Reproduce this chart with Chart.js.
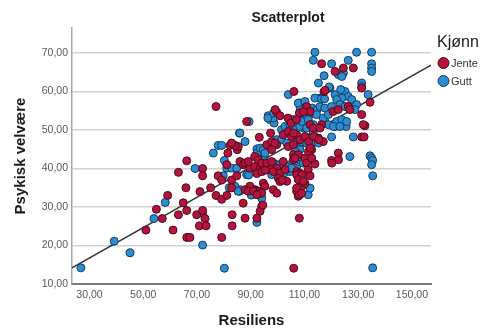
<!DOCTYPE html>
<html lang="no">
<head>
<meta charset="UTF-8">
<title>Scatterplot</title>
<script src="https://cdn.jsdelivr.net/npm/chart.js"></script>
<style>
  html, body { margin: 0; padding: 0; background: #fff; }
</style>
</head>
<body>
<canvas id="chart" width="484" height="334"></canvas>
<script>
// axis setup
const xTicks = [30, 50, 70, 90, 110, 130, 150];
const yTicks = [10, 20, 30, 40, 50, 60, 70];
const xRange = [23.5, 157.1];
const yRange = [10, 76.5];

// fit line (Resiliens -> Psykisk velvære)
const fitIntercept = 4.94;
const fitSlope = 0.394;

const groups = ['Jente', 'Gutt'];

// [Resiliens, Psykisk velvære]
const jente = [
  [51.0,24.0],[54.9,29.4],[57.1,27.0],[61.1,24.0],[63.1,39.0],[59.1,33.0],[63.1,28.0],[64.9,31.1],[65.9,35.0],[66.2,29.1],[66.2,22.1],[67.4,22.1],[66.2,42.0],
  [72.1,40.0],[72.1,38.1],[71.1,34.0],[69.9,28.0],[72.1,29.1],[73.0,27.0],[70.9,25.1],[73.4,25.1],[75.1,35.0],[77.1,33.0],[79.2,32.0],[77.9,38.1],[79.2,37.0],[81.1,33.0],[79.2,22.1],[82.9,37.0],[83.1,28.0],[83.1,25.1],[77.1,56.1],[82.3,46.0],[81.5,44.0],[85.0,44.9],[81.1,41.0],[85.4,45.7],[84.2,46.0],[84.8,38.1],[82.9,35.0],[82.9,46.6],[86.0,41.8],[87.2,41.0],
  [87.9,41.4],[89.7,40.1],[91.6,40.5],[89.1,41.8],[93.5,40.1],[94.7,40.5],[96.0,39.7],[97.8,40.1],[92.3,38.7],[94.2,39.2],[95.4,39.6],[91.6,43.1],[92.8,42.3],[94.1,41.4],[96.0,41.4],[97.8,41.8],[99.7,40.1],[98.4,39.2],[94.7,36.2],[95.3,35.4],[93.5,34.1],[91.6,34.5],[89.7,35.4],[87.9,34.5],[92.8,34.1],[94.1,33.6],[98.4,34.5],[99.7,33.6],[89.1,34.1],[91.0,34.1],[92.3,33.2],[87.2,31.0],[94.1,30.2],[93.5,28.9],[94.5,30.5],[87.9,27.1],[92.3,27.1],[93.2,48.1],[97.4,49.2],[99.7,54.6],[100.9,53.7],[99.1,55.3],[88.5,52.2],[96.0,46.2],[97.8,47.0],[99.7,46.2],[99.0,46.6],[97.8,44.9],
  [102.1,48.8],[104.0,49.6],[105.2,48.3],[107.1,48.8],[108.3,47.5],[110.2,48.3],[104.0,45.7],[105.9,46.2],[105.9,43.6],[107.7,43.6],[110.2,42.7],[102.1,41.8],[100.9,38.8],[100.3,37.5],[100.9,36.6],[107.1,39.2],[108.3,38.8],[107.1,34.1],[109.0,35.4],[107.7,32.8],[103.4,36.7],[110.2,36.1],[108.1,33.2],[108.1,27.1],[106.0,14.1],[101.7,37.0],[102.8,39.7],[105.9,42.3],[106.5,42.7],[110.8,41.4],[111.4,39.7],[112.1,38.1],[107.1,38.4],[109.0,38.4],[107.7,37.1],[109.6,36.7],[107.1,34.9],[109.0,33.6],[106.1,60.0],[103.9,53.1],[105.1,51.8],[108.1,54.4],[107.1,52.7],[105.9,49.2],[110.8,56.1],[112.1,54.8],[109.6,54.8],[111.6,47.0],[112.7,44.9],[111.5,44.4],
  [112.1,51.4],[116.4,51.4],[113.3,50.5],[132.5,51.1],[131.3,48.2],[132.2,48.2],[115.2,47.9],[117.0,47.0],[122.6,44.0],[120.1,42.1],[113.9,41.2],[116.4,67.2],[121.4,65.2],[124.5,66.1],[128.2,66.1],[131.3,60.9],[117.3,60.0],[134.4,57.2],[120.7,54.8],[122.6,55.3],[126.3,56.1],[126.9,55.3],[115.8,50.5],[131.3,54.0],[131.9,51.4],[113.4,48.3],[115.3,47.5],[112.1,45.3],[112.7,42.7],[122.7,42.3],[120.2,41.4],[117.7,60.3]
];

const gutt = [
  [26.8,14.2],[39.2,21.1],[45.1,18.1],[54.0,27.0],[58.2,31.2],[69.3,40.0],
  [72.1,28.3],[72.1,20.1],[79.8,38.1],[80.2,14.1],[82.0,35.0],[83.1,35.0],[77.9,46.0],[79.2,46.0],[76.1,44.0],[85.8,49.2],[80.2,42.1],[81.1,40.1],[82.9,40.1],[84.8,40.1],[87.9,47.0],[85.8,34.1],[86.0,34.5],[88.5,34.5],[88.5,38.4],[91.0,39.2],[97.8,38.4],[89.2,38.3],
  [92.3,45.1],[94.1,45.1],[96.0,45.1],[91.6,43.1],[92.8,42.7],[94.7,42.3],[96.0,41.0],[98.4,41.4],[99.7,41.0],[104.6,41.0],[107.1,40.5],[109.0,42.3],[107.7,41.8],[102.8,39.7],[104.6,39.2],[108.3,37.1],[84.1,35.4],[85.3,34.1],[90.4,33.2],[94.1,32.3],[92.3,26.0],[108.3,36.7],[111.4,33.2],[90.2,33.1],[102.3,38.7],[104.1,40.0],[92.3,44.0],[93.5,45.3],[94.7,44.9],[95.3,44.0],[100.9,41.0],[103.4,40.5],[105.2,40.1],[108.3,42.3],[108.3,35.4],[110.2,35.8],[112.1,34.9],[108.3,33.2],
  [89.4,52.2],[86.0,49.2],[96.5,53.7],[97.2,52.7],[98.7,51.8],[98.4,53.1],[98.5,54.4],[96.4,53.1],[104.0,59.2],[108.1,57.0],[108.4,55.7],[110.8,56.1],[105.9,52.7],[108.4,53.1],[109.6,51.8],[101.5,50.1],[102.8,50.9],[103.4,49.2],[104.6,50.1],[106.5,51.4],[110.2,50.9],[99.7,47.5],[101.5,47.5],[103.4,46.6],[107.1,46.6],[109.6,46.6],[106.6,50.9],[109.7,50.5],[107.7,57.0],[110.2,54.4],[112.1,54.0],[113.9,54.4],[104.6,51.4],[108.3,50.9],[107.1,47.5],[109.0,47.0],[108.3,44.9],[106.6,44.4],[107.9,43.1],[112.2,45.7],[109.6,41.4],[109.0,37.1],
  [109.0,52.2],[117.6,52.2],[118.9,51.4],[121.4,50.9],[125.5,50.9],[128.2,48.2],[120.1,48.2],[113.9,47.0],[115.2,46.6],[110.8,46.6],[126.9,43.1],[134.4,43.3],[135.0,42.7],[135.4,42.1],[135.0,41.0],[135.4,38.1],[135.4,14.2],
  [113.9,70.2],[129.4,70.2],[135.0,70.2],[113.3,68.1],[120.1,67.2],[126.3,68.1],[135.0,67.2],[135.0,66.1],[135.0,65.2],[122.6,64.4],[124.5,64.8],[123.9,63.9],[117.3,64.1],[115.2,62.2],[131.3,62.2],[131.3,61.3],[119.5,60.9],[133.7,59.2],[115.8,58.3],[113.9,58.3],[125.1,60.0],[126.3,58.7],[123.9,58.3],[127.6,57.9],[121.4,59.2],[122.0,57.9],[110.2,57.4],[119.2,61.2],[123.5,60.5],[116.3,58.1],[117.5,58.1],
  [112.9,55.7],[114.7,55.3],[115.8,56.1],[117.6,55.7],[120.1,56.1],[123.2,56.6],[125.1,56.1],[128.2,56.1],[129.4,56.6],[128.8,55.3],[122.0,52.2],[123.9,52.7],[125.7,52.2],[120.8,50.9],[123.2,50.9],[111.4,52.7],[110.8,50.5],[113.3,51.4],[113.3,49.2],[114.5,54.0],[117.0,53.1],[118.9,54.0]
];

const FONT = '"Liberation Sans", Arial, sans-serif';
const colors = ['#b3133d', '#2b8ed3'];
const edges = ['#4d0a1c', '#173a5c'];

const toPoints = arr => arr.map(p => ({ x: p[0], y: p[1] }));
const fmt = v => v.toFixed(2).replace('.', ',');

// title + legend drawn on top of the chart
const headerAndKey = {
  id: 'headerAndKey',
  afterDraw(chart) {
    const ctx = chart.ctx;
    ctx.save();
    ctx.fillStyle = '#1a1a1a';
    ctx.textBaseline = 'middle';
    ctx.textAlign = 'center';
    ctx.font = 'bold 14px ' + FONT;
    ctx.fillText('Scatterplot', 288, 18);

    ctx.textAlign = 'left';
    ctx.font = '16px ' + FONT;
    ctx.fillText('Kjønn', 437, 43);

    ctx.font = '11px ' + FONT;
    groups.forEach((g, i) => {
      const y = 63 + i * 18;
      ctx.beginPath();
      ctx.arc(443.5, y, 5.5, 0, Math.PI * 2);
      ctx.fillStyle = colors[i];
      ctx.fill();
      ctx.lineWidth = 1;
      ctx.strokeStyle = edges[i];
      ctx.stroke();
      ctx.fillStyle = '#333';
      ctx.fillText(g, 451, y + 0.5);
    });
    ctx.restore();
  }
};

new Chart(document.getElementById('chart'), {
  type: 'scatter',
  data: {
    datasets: [
      {
        label: groups[0],
        data: toPoints(jente),
        backgroundColor: colors[0],
        borderColor: edges[0],
        borderWidth: 1,
        pointRadius: 4
      },
      {
        label: groups[1],
        data: toPoints(gutt),
        backgroundColor: colors[1],
        borderColor: edges[1],
        borderWidth: 1,
        pointRadius: 4
      },
      {
        type: 'line',
        label: 'fit',
        data: xRange.map(x => ({ x: x, y: fitIntercept + fitSlope * x })),
        borderColor: '#333',
        borderWidth: 1.4,
        pointRadius: 0,
        fill: false
      }
    ]
  },
  options: {
    responsive: false,
    animation: false,
    devicePixelRatio: 1,
    layout: { padding: { top: 28, right: 53, bottom: 0, left: 0 } },
    plugins: {
      legend: { display: false },
      tooltip: { enabled: false }
    },
    scales: {
      x: {
        type: 'linear',
        min: xRange[0],
        max: xRange[1],
        afterBuildTicks: s => { s.ticks = xTicks.map(v => ({ value: v })); },
        afterFit: s => { s.height = 50; },
        ticks: {
          callback: v => fmt(v),
          font: { family: FONT, size: 10.5 },
          color: '#595959',
          padding: 5,
          maxRotation: 0,
          autoSkip: false
        },
        grid: { display: false, drawTicks: false },
        border: { display: true, color: '#7a7a7a', width: 2 },
        title: {
          display: true,
          text: 'Resiliens',
          font: { family: FONT, size: 15, weight: 'bold' },
          color: '#1a1a1a',
          padding: { top: 0, bottom: 4 }
        }
      },
      y: {
        type: 'linear',
        min: yRange[0],
        max: yRange[1],
        afterBuildTicks: s => { s.ticks = yTicks.map(v => ({ value: v })); },
        afterFit: s => { s.width = 72; },
        ticks: {
          callback: v => fmt(v),
          font: { family: FONT, size: 10.5 },
          color: '#595959',
          padding: 4
        },
        grid: { color: '#d2d2d2', lineWidth: 1.5, drawTicks: false },
        border: { display: true, color: '#a6a6a6', width: 1.5 },
        title: {
          display: true,
          text: 'Psykisk velvære',
          font: { family: FONT, size: 15, weight: 'bold' },
          color: '#1a1a1a',
          padding: { top: 12, bottom: 0 }
        }
      }
    }
  },
  plugins: [headerAndKey]
});
</script>
</body>
</html>
